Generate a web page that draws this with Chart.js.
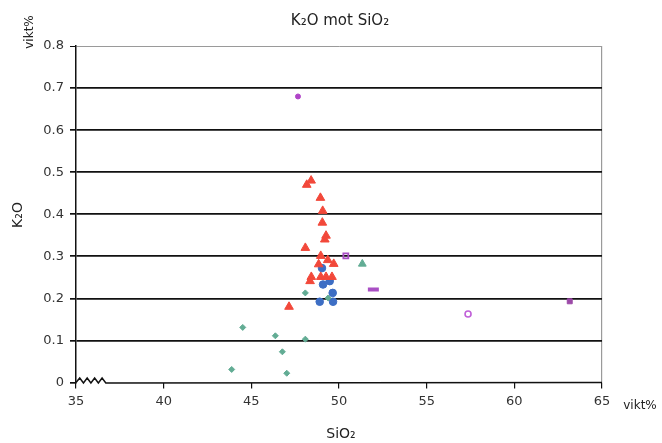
<!DOCTYPE html>
<html>
<head>
<meta charset="utf-8">
<script src="https://cdn.jsdelivr.net/npm/chart.js@4.4.1/dist/chart.umd.min.js"></script>
<style>
  html, body { margin: 0; padding: 0; background: #fff; }
  #wrap { width: 662px; height: 443px; }
</style>
</head>
<body>
<div id="wrap"><canvas id="k2oChart"></canvas></div>
<script>
// SiO2 (vikt%) and K2O (vikt%) per sample group
const greenDiaSi = [43.88, 44.51, 46.37, 46.77, 47.02, 48.08, 48.08, 49.38];
const greenDiaK = [0.031, 0.131, 0.111, 0.073, 0.022, 0.103, 0.213, 0.201];

const greenTriSi = [51.33];
const greenTriK = [0.282];

const redSi = [48.16, 48.41, 48.94, 49.07, 49.05, 49.26, 49.19, 48.08, 47.15, 48.96, 48.84, 49.36, 49.70, 48.42, 48.35, 48.96, 49.26, 49.60];
const redK = [0.470, 0.480, 0.439, 0.408, 0.380, 0.349, 0.340, 0.320, 0.180, 0.301, 0.281, 0.291, 0.282, 0.251, 0.241, 0.251, 0.251, 0.251];

const blueSi = [49.03, 49.09, 49.47, 49.64, 48.90, 49.66];
const blueK = [0.272, 0.233, 0.241, 0.213, 0.192, 0.192];

const purpleDotSi = [47.66];
const purpleDotK = [0.680];
const purpleStarSi = [50.39];
const purpleStarK = [0.301];
const purpleDashSi = [51.96];
const purpleDashK = [0.221];
const purpleRingSi = [57.36];
const purpleRingK = [0.163];
const purpleSquareSi = [63.16];
const purpleSquareK = [0.193];

const xTicks = [35, 40, 45, 50, 55, 60, 65];
const yTicks = [0, 0.1, 0.2, 0.3, 0.4, 0.5, 0.6, 0.7, 0.8];

function pts(xs, ys) {
    return xs.map((x, i) => ({ x: x, y: ys[i] }));
}

function series(xs, ys, style, fill, border, radius, extra) {
    return Object.assign({
        data: pts(xs, ys),
        pointStyle: style,
        backgroundColor: fill,
        borderColor: border,
        pointRadius: radius,
        pointBorderWidth: 1
    }, extra || {});
}

const FONT = '"DejaVu Sans", sans-serif';

// titles, unit labels and the broken x axis near the origin
const decor = {
    id: 'decor',
    afterDraw(chart) {
        const c = chart.ctx;
        const xs = chart.scales.x, ys = chart.scales.y;
        const y0 = ys.getPixelForValue(0);
        c.save();
        c.strokeStyle = '#111';
        c.lineWidth = 1.5;
        c.beginPath();
        const a = xs.getPixelForValue(35), b = xs.getPixelForValue(36.7);
        const n = 4, step = (b - a) / n;
        c.moveTo(a, y0);
        for (let i = 0; i < n; i++) {
            c.lineTo(a + step * (i + 0.5), y0 - 4.5);
            c.lineTo(a + step * (i + 1), y0 + 0.5);
        }
        c.lineTo(xs.getPixelForValue(65), y0);
        c.stroke();

        c.fillStyle = '#222';
        c.textAlign = 'center';
        c.textBaseline = 'middle';
        c.font = '15px ' + FONT;
        c.fillText('K\u2082O mot SiO\u2082', 340, 21);
        c.font = '14px ' + FONT;
        c.fillText('SiO\u2082', 341, 434);
        c.font = '12px ' + FONT;
        c.fillText('vikt%', 640, 406);

        c.save();
        c.translate(18, 215);
        c.rotate(-Math.PI / 2);
        c.font = '14px ' + FONT;
        c.fillText('K\u2082O', 0, 0);
        c.restore();

        c.save();
        c.translate(30, 32);
        c.rotate(-Math.PI / 2);
        c.font = '12px ' + FONT;
        c.fillText('vikt%', 0, 0);
        c.restore();
        c.restore();
    }
};

new Chart(document.getElementById('k2oChart'), {
    type: 'scatter',
    data: {
        datasets: [
            series(purpleDotSi, purpleDotK, 'circle', '#b044c8', '#b044c8', 2.5),
            series(purpleStarSi, purpleStarK, 'rect', 'rgba(0,0,0,0)', '#a94fc4', 3.5, { pointBorderWidth: 1.8 }),
            series(purpleDashSi, purpleDashK, 'line', '#a94fc4', '#a94fc4', 5.5, { pointBorderWidth: 4 }),
            series(purpleRingSi, purpleRingK, 'circle', '#ffffff', '#c060d8', 3, { pointBorderWidth: 1.6 }),
            series(purpleSquareSi, purpleSquareK, 'rect', '#9c4aa8', '#9c4aa8', 3.5),
            series(greenDiaSi, greenDiaK, 'rectRot', '#62ac94', '#62ac94', 3),
            series(greenTriSi, greenTriK, 'triangle', '#62ac94', '#62ac94', 4.5),
            series(redSi, redK, 'triangle', '#f2483a', '#f2483a', 5),
            series(blueSi, blueK, 'circle', '#3d6ec4', '#3d6ec4', 3.8)
        ]
    },
    options: {
        responsive: true,
        maintainAspectRatio: false,
        animation: false,
        layout: { padding: { top: 46, right: 60, left: 0, bottom: 0 } },
        plugins: {
            legend: { display: false },
            tooltip: { enabled: false }
        },
        scales: {
            x: {
                type: 'linear',
                min: 35,
                max: 65,
                afterFit(scale) { scale.height = 60.5; },
                afterBuildTicks(scale) { scale.ticks = xTicks.map(v => ({ value: v })); },
                border: { display: false },
                grid: {
                    drawOnChartArea: true,
                    color: ctx => ctx.tick && ctx.tick.value === 65 ? '#9a9a9a' : 'rgba(0,0,0,0)',
                    tickColor: '#111',
                    tickLength: 6,
                    lineWidth: 1.2
                },
                ticks: {
                    color: '#333',
                    font: { family: FONT, size: 13 },
                    padding: 5,
                    maxRotation: 0
                }
            },
            y: {
                min: 0,
                max: 0.8,
                afterFit(scale) { scale.width = 76; },
                afterBuildTicks(scale) { scale.ticks = yTicks.map(v => ({ value: v })); },
                border: { display: true, color: '#111', width: 1.5 },
                grid: {
                    color: ctx => {
                        if (!ctx.tick) return '#111';
                        if (ctx.tick.value === 0) return 'rgba(0,0,0,0)';
                        if (ctx.tick.value === 0.8) return '#9a9a9a';
                        return '#111';
                    },
                    lineWidth: ctx => ctx.tick && ctx.tick.value === 0.8 ? 1 : 1.7,
                    tickColor: '#111',
                    tickLength: 6
                },
                ticks: {
                    color: '#333',
                    font: { family: FONT, size: 13 },
                    padding: 6,
                    callback: v => v === 0 ? '0' : v.toFixed(1)
                }
            }
        }
    },
    plugins: [decor]
});
</script>
</body>
</html>
